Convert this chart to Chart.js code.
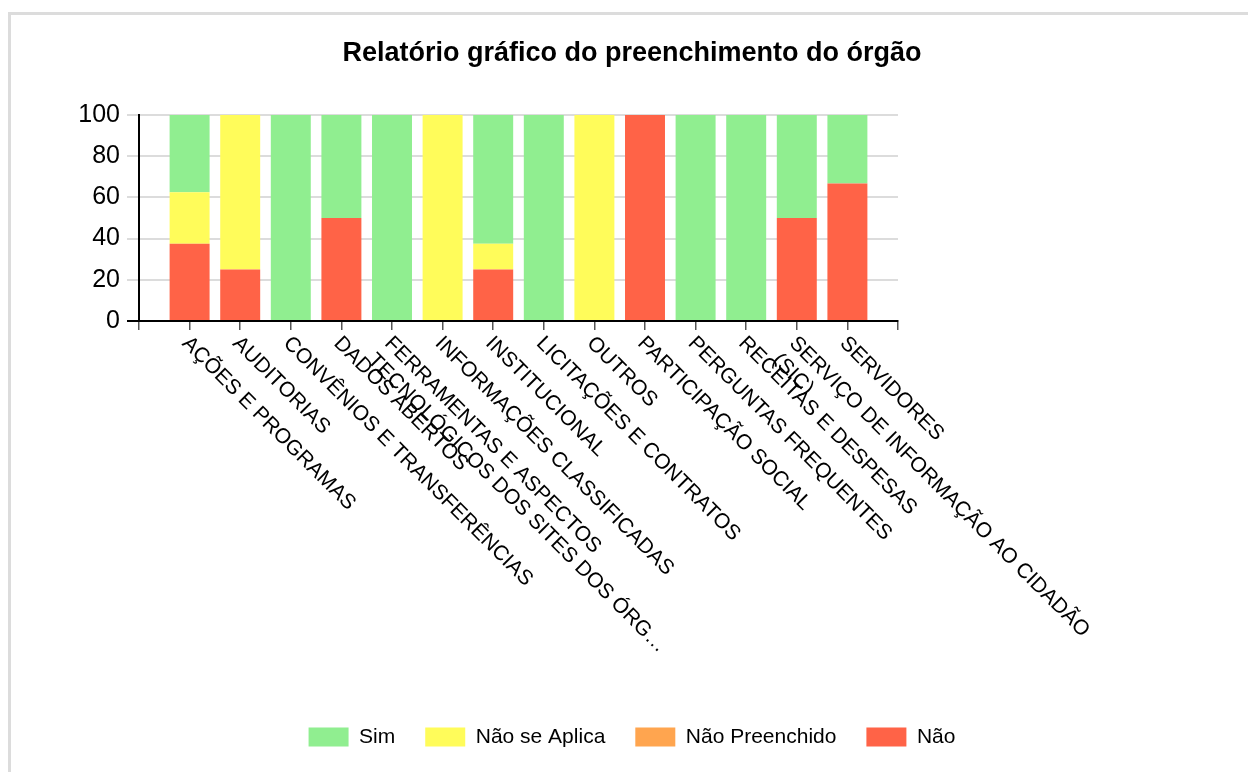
<!DOCTYPE html>
<html>
<head>
<meta charset="utf-8">
<script src="https://cdn.jsdelivr.net/npm/chart.js@4.4.1/dist/chart.umd.min.js"></script>
<style>
  html, body { margin: 0; padding: 0; overflow: hidden; background: #fff; }
  #frame { position: absolute; left: 8px; top: 12px; width: 1300px; height: 820px; border: 3px solid #dcdcdc; }
  #wrap { position: absolute; left: 0; top: 0; width: 1248px; height: 772px; }
</style>
</head>
<body>
<div id="frame"></div>
<div id="wrap"><canvas id="chart"></canvas></div>
<script>
// Relatório gráfico: stacked share per category (percent).
const CATEGORIES = [
  'AÇÕES E PROGRAMAS', 'AUDITORIAS', 'CONVÊNIOS E TRANSFERÊNCIAS', 'DADOS ABERTOS',
  ['FERRAMENTAS E ASPECTOS', 'TECNOLÓGICOS DOS SITES DOS ÓRG…'],
  'INFORMAÇÕES CLASSIFICADAS', 'INSTITUCIONAL', 'LICITAÇÕES E CONTRATOS', 'OUTROS',
  'PARTICIPAÇÃO SOCIAL', 'PERGUNTAS FREQUENTES', 'RECEITAS E DESPESAS',
  ['SERVIÇO DE INFORMAÇÃO AO CIDADÃO', '(SIC)'], 'SERVIDORES',
];
const NAO            = [37.5, 25, 0, 50, 0, 0, 25, 0, 0, 100, 0, 0, 50, 66.7];
const NAO_PREENCHIDO = [0, 0, 0, 0, 0, 0, 0, 0, 0, 0, 0, 0, 0, 0];
const NAO_SE_APLICA  = [25, 75, 0, 0, 0, 100, 12.5, 0, 100, 0, 0, 0, 0, 0];
const SIM            = [37.5, 0, 100, 50, 100, 0, 62.5, 100, 0, 0, 100, 100, 50, 33.3];
const Y_TICKS = [0, 20, 40, 60, 80, 100];

const FONT = 'Arial, "Liberation Sans", sans-serif';
// empty slot at each end of the axis, like the original
const pad = (a) => [null, ...a, null];
const labels = pad(CATEGORIES.map((c) => (Array.isArray(c) ? c.join(' ') : c))).map((c) => c || '');

// x labels run down-right from the tick, which Chart.js can't rotate that way itself
const slantLabels = {
  id: 'slantLabels',
  afterDraw(c) {
    const x = c.scales.x, ctx = c.ctx;
    ctx.save();
    ctx.font = '21px ' + FONT;
    ctx.fillStyle = '#000';
    ctx.textAlign = 'left';
    ctx.textBaseline = 'middle';
    CATEGORIES.forEach((lab, i) => {
      const lines = Array.isArray(lab) ? lab : [lab];
      ctx.save();
      ctx.translate(x.getPixelForValue(i + 1), x.top + 15);
      ctx.rotate(Math.PI / 4);
      lines.forEach((t, k) => ctx.fillText(t, 0, 6 + k * 24));
      ctx.restore();
    });
    ctx.restore();
  },
};

const ds = (label, data, color) => ({ label, data: pad(data), backgroundColor: color, borderWidth: 0, categoryPercentage: 1, barPercentage: 0.79 });

new Chart(document.getElementById('chart'), {
  type: 'bar',
  data: {
    labels,
    datasets: [
      ds('Não', NAO, '#FF6347'),
      ds('Não Preenchido', NAO_PREENCHIDO, '#FFA54F'),
      ds('Não se Aplica', NAO_SE_APLICA, '#FFFC5A'),
      ds('Sim', SIM, '#90EE90'),
    ],
  },
  plugins: [slantLabels],
  options: {
    responsive: true,
    maintainAspectRatio: false,
    animation: false,
    events: [],
    layout: { padding: { top: 30, bottom: 14.5, left: 16, right: 0 } },
    plugins: {
      tooltip: { enabled: false },
      title: { display: true, text: 'Relatório gráfico do preenchimento do órgão', color: '#000', font: { family: FONT, size: 27, weight: 'bold' }, padding: { top: 7, bottom: 45.6 } },
      legend: { position: 'bottom', reverse: true, labels: { color: '#000', boxWidth: 40, boxHeight: 19, padding: 30, font: { family: FONT, size: 21 } } },
    },
    scales: {
      x: {
        stacked: true, offset: false,
        grid: { offset: false, drawOnChartArea: false, drawTicks: true, tickLength: 9, color: '#555', lineWidth: 1.5 },
        border: { color: '#000', width: 2 },
        ticks: { display: false, autoSkip: false },
        afterFit: (s) => { s.height = 375.5; },
      },
      y: {
        stacked: true, min: 0, max: 100,
        afterBuildTicks: (s) => { s.ticks = Y_TICKS.map((v) => ({ value: v })); },
        grid: { color: (g) => (g.tick && g.tick.value === 0 ? '#000' : '#dcdcdc'), lineWidth: 2, tickLength: 12 },
        border: { color: '#000', width: 2 },
        ticks: { color: '#000', padding: 7, font: { family: FONT, size: 25 } },
        afterFit: (s) => { s.width = 123; },
      },
      spacer: {
        type: 'linear', position: 'right', display: true,
        grid: { display: false }, border: { display: false }, ticks: { display: false },
        afterFit: (s) => { s.width = 350; },
      },
    },
  },
});
</script>
</body>
</html>
